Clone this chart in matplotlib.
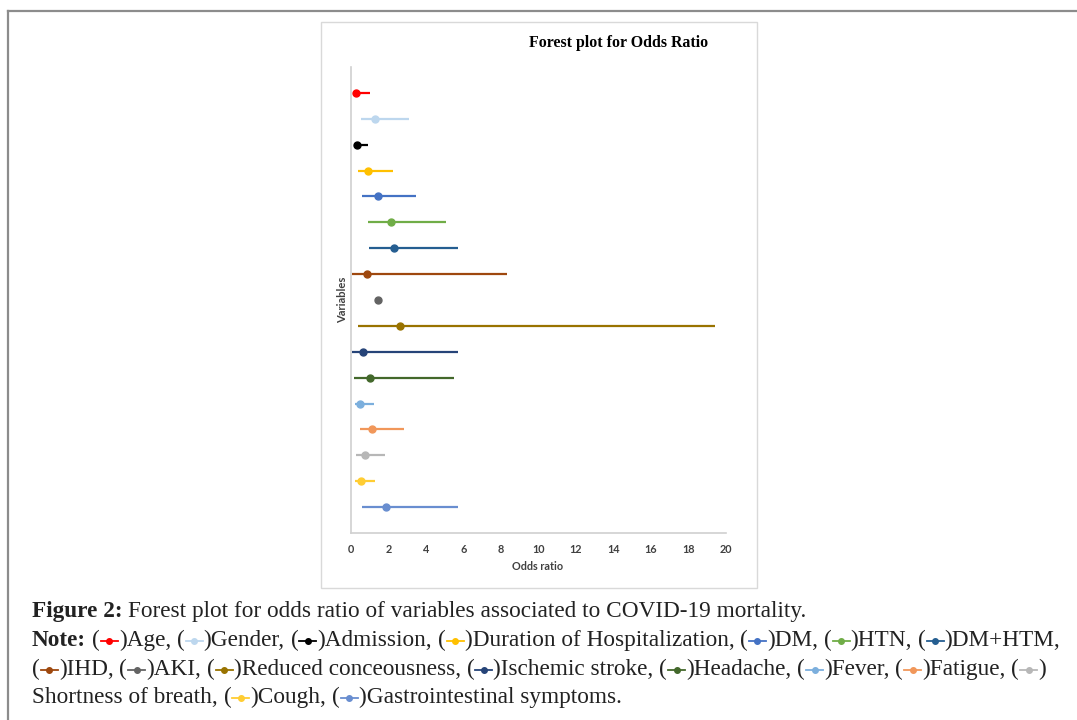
import matplotlib
matplotlib.use('Agg')
import matplotlib.pyplot as plt
from matplotlib.lines import Line2D
from matplotlib.patches import Rectangle
from matplotlib.transforms import IdentityTransform

# variables, top to bottom
labels = ['Age', 'Gender', 'Admission', 'Duration of Hospitalization', 'DM', 'HTN',
          'DM+HTM', 'IHD', 'AKI', 'Reduced conceousness', 'Ischemic stroke', 'Headache',
          'Fever', 'Fatigue', 'Shortness of breath', 'Cough', 'Gastrointestinal symptoms']
odds = [0.25, 1.28, 0.30, 0.90, 1.45, 2.13, 2.29, 0.85, 1.44, 2.62, 0.64, 1.03,
        0.48, 1.13, 0.73, 0.53, 1.84]
lower = [0.10, 0.52, 0.16, 0.36, 0.60, 0.90, 0.94, 0.07, 1.40, 0.36, 0.05, 0.18,
         0.20, 0.46, 0.28, 0.21, 0.57]
upper = [1.00, 3.10, 0.89, 2.23, 3.44, 5.05, 5.69, 8.32, 1.48, 19.40, 5.73, 5.51,
         1.22, 2.84, 1.79, 1.29, 5.73]
colors = ['#FF0000', '#BDD7EE', '#000000', '#FFC000', '#4472C4', '#70AD47', '#255E91',
          '#9E480E', '#636363', '#997300', '#264478', '#43682B', '#7CAFDD', '#F1975A',
          '#B7B7B7', '#FFCD33', '#698ED0']
xticks = [0, 2, 4, 6, 8, 10, 12, 14, 16, 18, 20]

W, H = 1077, 720
fig = plt.figure(figsize=(W / 100, H / 100), dpi=100)
px = IdentityTransform()

# outer frame (left + top only visible)
fig.add_artist(Line2D([8, 8], [0, H - 11], transform=px, color='#8c8c8c', lw=1.6))
fig.add_artist(Line2D([8, W], [H - 11, H - 11], transform=px, color='#8c8c8c', lw=1.6))
# chart box
fig.add_artist(Rectangle((321, H - 588), 436, 566, transform=px,
                         fill=False, edgecolor='#d9d9d9', lw=1))

ax = fig.add_axes([351 / W, (H - 533) / H, (726 - 351) / W, (533 - 67) / H])
n = len(labels)
ypos = [n - i for i in range(n)]
for i in range(n):
    ax.plot([lower[i], upper[i]], [ypos[i], ypos[i]], color=colors[i], lw=1.6,
            solid_capstyle='butt')
    ax.plot(odds[i], ypos[i], 'o', color=colors[i], ms=5)

ax.set_xlim(0, 20)
ax.set_ylim(0, n + 1)
ax.set_xticks(xticks)
ax.set_xticklabels([str(t) for t in xticks], fontfamily='Lato', fontweight='bold',
                   fontsize=7.8, color='#404040')
ax.set_yticks([])
ax.tick_params(axis='x', length=0, pad=8)
for s in ['top', 'right']:
    ax.spines[s].set_visible(False)
for s in ['left', 'bottom']:
    ax.spines[s].set_color('#d0d0d0')
    ax.spines[s].set_linewidth(1.2)

fig.text(619 / W, 1 - 43 / H, 'Forest plot for Odds Ratio', ha='center', va='center',
         fontfamily='Liberation Serif', fontweight='bold', fontsize=11.4)
fig.text(538 / W, 1 - 566 / H, 'Odds ratio', ha='center', va='center',
         fontfamily='Lato', fontweight='bold', fontsize=7.8, color='#404040')
fig.text(343 / W, 1 - 300 / H, 'Variables', ha='center', va='center', rotation=90,
         fontfamily='Lato', fontweight='bold', fontsize=8, color='#404040')

# caption with inline legend markers
renderer = fig.canvas.get_renderer()
cap_font = dict(fontfamily='Liberation Serif', fontsize=13, color='#222222')


def text_width(s, bold=False):
    t = fig.text(0, 0, s, fontweight='bold' if bold else 'normal', **cap_font)
    w = t.get_window_extent(renderer).width
    t.remove()
    return w


head_bold = 'Figure 2:'
head_text = 'Forest plot for odds ratio of variables associated to COVID-19 mortality.'
# fit the first caption line to the reference width (32 -> 803 px)
w0 = text_width(head_bold, True) + text_width('x x') - text_width('xx') + text_width(head_text)
cap_font['fontsize'] = 13 * 771 / w0
space = text_width('x x') - text_width('xx')

tokens = [('b', head_bold), ('sp',), ('t', head_text), ('br',),
          ('b', 'Note:'), ('sp',)]
for i, lab in enumerate(labels):
    tokens += [('t', '('), ('m', colors[i])]
    end = '.' if i == n - 1 else ','
    if lab == 'Shortness of breath':
        tokens += [('t', ')'), ('br',), ('t', lab + end)]
    else:
        tokens += [('t', ')' + lab + end)]
    if i == 6:
        tokens += [('br',)]
    elif i < n - 1:
        tokens += [('sp',)]

baselines = [617, 646, 675, 703]
line = 0
x = 32
for tok in tokens:
    yb = H - baselines[line]
    if tok[0] == 'br':
        line += 1
        x = 32
    elif tok[0] == 'sp':
        x += space
    elif tok[0] == 'm':
        ym = yb + 5.5
        fig.add_artist(Line2D([x + 1, x + 18], [ym, ym], transform=px,
                              color=tok[1], lw=1.3))
        fig.add_artist(Line2D([x + 9.5], [ym], transform=px, marker='o',
                              ms=4, color=tok[1]))
        x += 19
    else:
        t = fig.text(x / W, yb / H, tok[1], va='baseline', ha='left',
                     fontweight='bold' if tok[0] == 'b' else 'normal', **cap_font)
        x = t.get_window_extent(renderer).x1

fig.savefig('out.png', dpi=100)
